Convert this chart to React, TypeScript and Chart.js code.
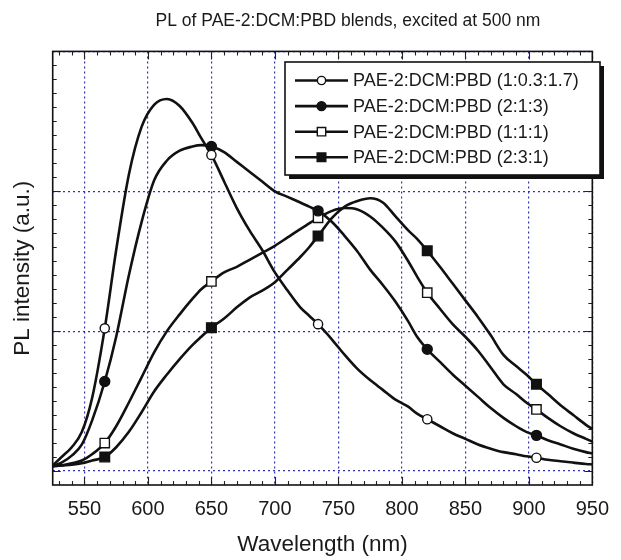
import React, { useEffect, useRef } from 'react';
import { Chart, registerables } from 'chart.js';

Chart.register(...registerables);

const FONT = "'Liberation Sans', Arial, Helvetica, sans-serif";
const TEXT = '#1a1a1a';
const INK = '#111111';
const GRID = 'rgba(40,40,175,0.95)';

const chartTitle = 'PL of PAE-2:DCM:PBD blends, excited at 500 nm';
const xTitle = 'Wavelength (nm)';
const yTitle = 'PL intensity (a.u.)';
const xTickValues = [550, 600, 650, 700, 750, 800, 850, 900, 950];
const yGridValues = [0, 1, 2, 3];
const xMin = 525;
const xMax = 950;
const yMin = -0.1;
const yMax = 3.0;
const markerWavelengths = [566, 650, 734, 820, 906];

const seriesLabels = [
  'PAE-2:DCM:PBD (1:0.3:1.7)',
  'PAE-2:DCM:PBD (2:1:3)',
  'PAE-2:DCM:PBD (1:1:1)',
  'PAE-2:DCM:PBD (2:3:1)',
];

const wavelengths = [
  525, 532, 540, 548, 556, 566, 575, 585, 595, 605,
  615, 625, 635, 642, 650, 660, 670, 680, 690, 700,
  710, 720, 727, 734, 745, 755, 765, 775, 785, 795,
  805, 812, 820, 830, 840, 850, 860, 870, 880, 890,
  898, 906, 915, 925, 935, 945, 950,
];

const blend1 = [
  0.04, 0.1, 0.17, 0.28, 0.52, 1.02, 1.58, 2.12, 2.46, 2.62,
  2.66, 2.61, 2.49, 2.38, 2.26, 2.07, 1.88, 1.72, 1.58, 1.42,
  1.29, 1.17, 1.11, 1.05, 0.94, 0.83, 0.73, 0.65, 0.58, 0.51,
  0.46, 0.41, 0.37, 0.32, 0.27, 0.23, 0.19, 0.16, 0.135, 0.12,
  0.105, 0.095, 0.08, 0.07, 0.06, 0.05, 0.047,
];

const blend2 = [
  0.035, 0.06, 0.11, 0.19, 0.36, 0.64, 0.96, 1.4, 1.78, 2.08,
  2.22, 2.29, 2.32, 2.33, 2.32, 2.28, 2.21, 2.14, 2.07, 2.0,
  1.96, 1.92, 1.89, 1.86, 1.78, 1.68, 1.57, 1.44, 1.33, 1.21,
  1.07, 0.96, 0.87, 0.78, 0.69, 0.61, 0.53, 0.45, 0.38, 0.32,
  0.28, 0.255, 0.22, 0.19, 0.16, 0.135, 0.125,
];

const blend3 = [
  0.035, 0.04, 0.055, 0.075, 0.12, 0.2, 0.32, 0.49, 0.67, 0.85,
  1.0, 1.12, 1.23, 1.3, 1.355, 1.42, 1.46, 1.51, 1.56, 1.61,
  1.67, 1.73, 1.77, 1.81, 1.86, 1.88, 1.87, 1.82, 1.74, 1.64,
  1.5, 1.39, 1.275, 1.16, 1.05, 0.96, 0.86, 0.74, 0.62, 0.55,
  0.49, 0.44, 0.38, 0.32, 0.27, 0.23, 0.21,
];

const blend4 = [
  0.035, 0.04, 0.045, 0.055, 0.075, 0.1, 0.17, 0.28, 0.42, 0.57,
  0.69, 0.8, 0.9, 0.96, 1.025, 1.09, 1.17, 1.24, 1.29, 1.35,
  1.44, 1.53, 1.6, 1.68, 1.81, 1.89, 1.93, 1.95, 1.92, 1.82,
  1.72, 1.66, 1.575, 1.46, 1.34, 1.22, 1.1, 0.97, 0.83, 0.75,
  0.69, 0.62, 0.55, 0.47, 0.4, 0.33, 0.3,
];

const markerStyles = [
  { style: 'circle', fill: '#ffffff', r: 4.6 },
  { style: 'circle', fill: INK, r: 5 },
  { style: 'rect', fill: '#ffffff', r: 6.6 },
  { style: 'rect', fill: INK, r: 6.8 },
];

function drawMarker(ctx: CanvasRenderingContext2D, kind: string, fill: string, r: number, x: number, y: number) {
  ctx.save();
  ctx.fillStyle = fill;
  ctx.strokeStyle = INK;
  ctx.lineWidth = 1.4;
  ctx.beginPath();
  if (kind === 'circle') {
    ctx.arc(x, y, r, 0, Math.PI * 2);
  } else {
    const s = r * Math.SQRT1_2;
    ctx.rect(x - s, y - s, 2 * s, 2 * s);
  }
  ctx.fill();
  ctx.stroke();
  ctx.restore();
}

const framePlugin = {
  id: 'frameTicks',
  afterDatasetsDraw(chart: any) {
    const { ctx, chartArea: a, scales } = chart;
    const x = scales.x;
    const y = scales.y;
    ctx.save();
    ctx.strokeStyle = '#222';
    ctx.lineWidth = 1.1;
    ctx.beginPath();
    for (let v = 530; v < xMax; v += 10) {
      const px = Math.round(x.getPixelForValue(v)) + 0.5;
      const len = v % 50 === 0 ? 8 : 4;
      ctx.moveTo(px, a.bottom);
      ctx.lineTo(px, a.bottom - len);
      ctx.moveTo(px, a.top);
      ctx.lineTo(px, a.top + len);
    }
    for (let k = 0; k < 30; k++) {
      const v = k / 10;
      const py = Math.round(y.getPixelForValue(v)) + 0.5;
      const len = k % 10 === 0 ? 8 : 4;
      ctx.moveTo(a.left, py);
      ctx.lineTo(a.left + len, py);
      ctx.moveTo(a.right, py);
      ctx.lineTo(a.right - len, py);
    }
    ctx.stroke();
    ctx.strokeStyle = '#111';
    ctx.lineWidth = 1.6;
    ctx.strokeRect(a.left, a.top, a.right - a.left, a.bottom - a.top);
    ctx.restore();
  },
};

const legendPlugin = {
  id: 'boxLegend',
  afterDraw(chart: any) {
    const { ctx } = chart;
    const lx = 285;
    const ly = 62;
    const lw = 315;
    const lh = 113;
    ctx.save();
    ctx.fillStyle = INK;
    ctx.fillRect(lx + 4, ly + 4, lw, lh);
    ctx.fillStyle = '#ffffff';
    ctx.fillRect(lx, ly, lw, lh);
    ctx.strokeStyle = INK;
    ctx.lineWidth = 1.6;
    ctx.strokeRect(lx, ly, lw, lh);
    ctx.font = `18px ${FONT}`;
    ctx.textBaseline = 'middle';
    ctx.textAlign = 'left';
    chart.data.datasets.forEach((ds: any, i: number) => {
      const cy = 80.5 + i * 25.6;
      ctx.strokeStyle = INK;
      ctx.lineWidth = 2.6;
      ctx.beginPath();
      ctx.moveTo(295, cy);
      ctx.lineTo(348, cy);
      ctx.stroke();
      const m = markerStyles[i];
      drawMarker(ctx, m.style, m.fill, m.r * 0.9, 321.5, cy);
      ctx.fillStyle = TEXT;
      ctx.fillText(ds.label, 353, cy + 1);
    });
    ctx.restore();
  },
};

const titlePlugin = {
  id: 'topTitle',
  afterDraw(chart: any) {
    const { ctx } = chart;
    ctx.save();
    ctx.font = `17.5px ${FONT}`;
    ctx.fillStyle = TEXT;
    ctx.textAlign = 'center';
    ctx.textBaseline = 'alphabetic';
    ctx.fillText(chartTitle, 348, 26);
    ctx.restore();
  },
};

export default function App() {
  const ref = useRef<HTMLCanvasElement>(null);

  useEffect(() => {
    const canvas = ref.current;
    if (!canvas) return;
    const series = [blend1, blend2, blend3, blend4];
    const datasets = series.map((vals, i) => ({
      label: seriesLabels[i],
      data: wavelengths.map((w, j) => ({ x: w, y: vals[j] })),
      borderColor: INK,
      borderWidth: 2.6,
      cubicInterpolationMode: 'monotone' as const,
      pointStyle: markerStyles[i].style as any,
      pointRadius: (c: any) => (markerWavelengths.includes(wavelengths[c.dataIndex]) ? markerStyles[i].r : 0),
      pointHoverRadius: 0,
      pointBackgroundColor: markerStyles[i].fill,
      pointBorderColor: INK,
      pointBorderWidth: 1.4,
      fill: false,
    }));

    const chart = new Chart(canvas, {
      type: 'line',
      data: { datasets },
      options: {
        animation: false,
        responsive: false,
        devicePixelRatio: 1,
        layout: { padding: { left: 0, right: 24, top: 51.4, bottom: 0 } },
        plugins: {
          legend: { display: false },
          title: { display: false },
          tooltip: { enabled: false },
        },
        font: { family: FONT },
        scales: {
          x: {
            type: 'linear',
            min: xMin,
            max: xMax,
            afterBuildTicks: (scale: any) => {
              scale.ticks = xTickValues.map((v) => ({ value: v }));
            },
            afterFit: (scale: any) => {
              scale.height = 75;
            },
            ticks: {
              autoSkip: false,
              maxRotation: 0,
              padding: 12,
              color: TEXT,
              font: { family: FONT, size: 20 },
            },
            grid: {
              color: GRID,
              lineWidth: 1.2,
              drawTicks: false,
            },
            border: { display: false, dash: [2, 3] },
            title: {
              display: true,
              text: xTitle,
              color: TEXT,
              font: { family: FONT, size: 22.5 },
              padding: { top: 0, bottom: 1.5 },
            },
          },
          y: {
            type: 'linear',
            min: yMin,
            max: yMax,
            afterBuildTicks: (scale: any) => {
              scale.ticks = yGridValues.map((v) => ({ value: v }));
            },
            afterFit: (scale: any) => {
              scale.width = 52.7;
            },
            ticks: { display: false },
            grid: {
              color: GRID,
              lineWidth: 1.2,
              drawTicks: false,
            },
            border: { display: false, dash: [2, 3] },
            title: {
              display: true,
              text: yTitle,
              color: TEXT,
              font: { family: FONT, size: 22.5 },
              padding: { top: 9.5, bottom: 0 },
            },
          },
        },
      } as any,
      plugins: [framePlugin, legendPlugin, titlePlugin],
    });

    return () => chart.destroy();
  }, []);

  return (
    <div style={{ position: 'absolute', left: 0, top: 0, width: 621, height: 560, background: '#ffffff' }}>
      <canvas ref={ref} width={621} height={560} style={{ display: 'block' }} />
    </div>
  );
}
